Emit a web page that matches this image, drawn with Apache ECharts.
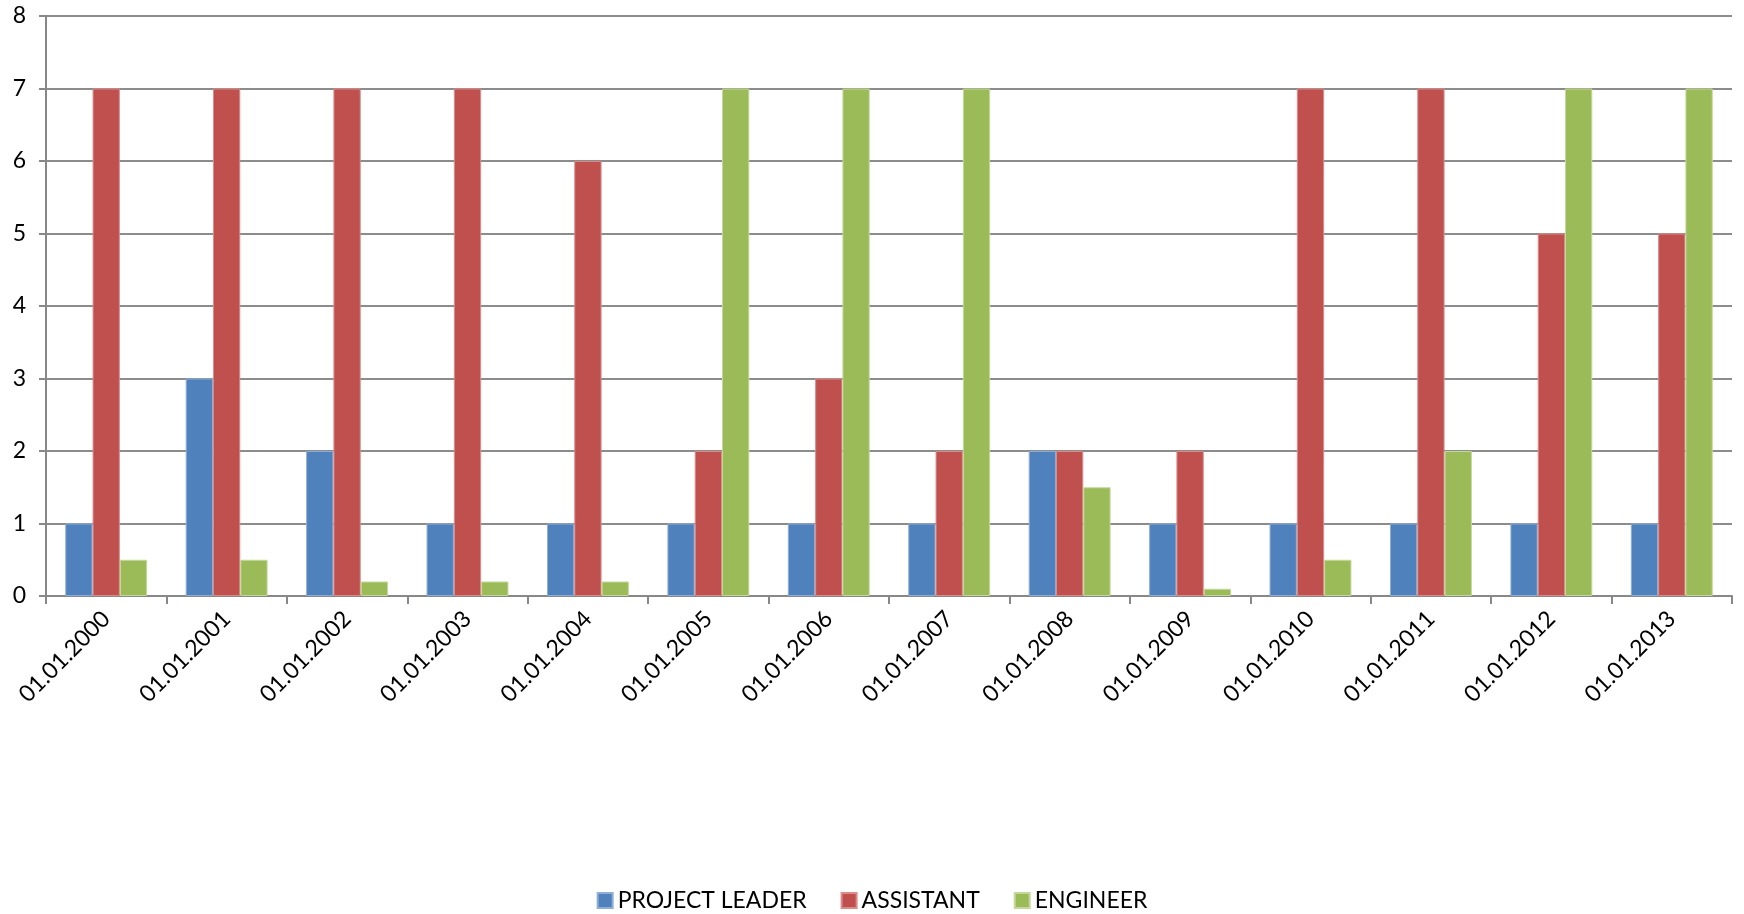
<!DOCTYPE html>
<html>
<head>
<meta charset="utf-8">
<script src="https://cdn.jsdelivr.net/npm/echarts@6/dist/echarts.min.js"></script>
<style>
    html, body { margin: 0; padding: 0; background: #fff; }
    #chart { width: 1744px; height: 914px; }
</style>
</head>
<body>
<div id="chart"></div>
<script>
// categories + values
var dates = ['01.01.2000', '01.01.2001', '01.01.2002', '01.01.2003', '01.01.2004', '01.01.2005', '01.01.2006',
    '01.01.2007', '01.01.2008', '01.01.2009', '01.01.2010', '01.01.2011', '01.01.2012', '01.01.2013'];
var projectLeader = [1, 3, 2, 1, 1, 1, 1, 1, 2, 1, 1, 1, 1, 1];
var assistant = [7, 7, 7, 7, 6, 2, 3, 2, 2, 2, 7, 7, 5, 5];
var engineer = [0.5, 0.5, 0.2, 0.2, 0.2, 7, 7, 7, 1.5, 0.1, 0.5, 2, 7, 7];
var yTicks = [0, 1, 2, 3, 4, 5, 6, 7, 8];

var chart = echarts.init(document.getElementById('chart'));

function barSeries(name, data, color, border) {
    return {
        name: name,
        type: 'bar',
        data: data,
        barGap: '0%',
        barCategoryGap: '32%',
        itemStyle: {color: color, borderColor: border, borderWidth: 1},
        animation: false
    };
}

var option = {
    backgroundColor: '#fff',
    textStyle: {fontFamily: 'Lato, "Open Sans", sans-serif'},
    grid: {left: 46, right: 12, top: 16, bottom: 318, containLabel: false},
    legend: {
        top: 884,
        left: 'center',
        itemWidth: 15,
        itemHeight: 15,
        itemGap: 34,
        icon: 'rect',
        textStyle: {fontSize: 23, color: '#000', fontFamily: 'Lato, sans-serif'},
        data: ['PROJECT LEADER', 'ASSISTANT', 'ENGINEER']
    },
    xAxis: {
        type: 'category',
        data: dates,
        boundaryGap: true,
        axisLine: {lineStyle: {color: '#888', width: 2}},
        axisTick: {show: true, length: 8, lineStyle: {color: '#888', width: 2}},
        axisLabel: {rotate: 45, fontSize: 23, color: '#000', margin: 19, interval: 0}
    },
    yAxis: {
        type: 'value',
        min: yTicks[0],
        max: yTicks[yTicks.length - 1],
        interval: 1,
        axisLine: {show: true, lineStyle: {color: '#888', width: 2}},
        axisTick: {show: true, length: 7, lineStyle: {color: '#888', width: 2}},
        axisLabel: {fontSize: 23, color: '#000', margin: 20},
        splitLine: {lineStyle: {color: '#8c8c8c', width: 2}}
    },
    series: [
        barSeries('PROJECT LEADER', projectLeader, '#4F81BD', '#8eaed6'),
        barSeries('ASSISTANT', assistant, '#C0504D', '#d98c8a'),
        barSeries('ENGINEER', engineer, '#9BBB59', '#c3d89a')
    ]
};

chart.setOption(option);
</script>
</body>
</html>
